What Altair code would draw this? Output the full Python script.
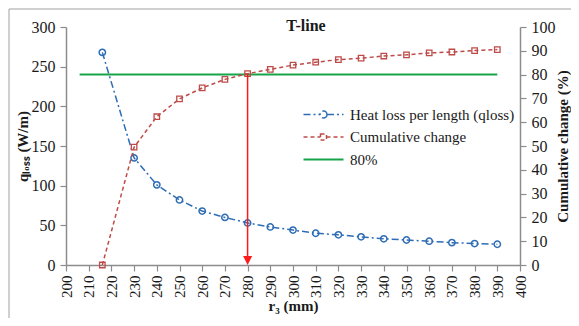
import altair as alt
import pandas as pd

# ---- data ----
r3 = [216, 230, 240, 250, 260, 270, 280, 290, 300, 310, 320, 330, 340, 350, 360, 370, 380, 390]
qloss = [268, 135, 101, 82, 68, 60, 53, 48, 44, 40, 38, 35.5, 33, 31.5, 30, 28.2, 27, 26.2]
cum_change = [0, 49.5, 62.3, 69.8, 74.4, 78.0, 80.4, 82.2, 84.0, 85.2, 86.3, 86.9, 87.8, 88.3, 89.1, 89.5, 90.1, 90.5]
line80_x = [206, 390]
line80_y = [80, 80]
arrow_x = [280]
arrow_top = [80.4]
arrow_bottom = [2.5]
arrow_tip = [0]
x_ticks = list(range(200, 401, 10))
left_ticks = list(range(0, 301, 50))
right_ticks = list(range(0, 101, 10))
series = ["Heat loss per length (qloss)", "Cumulative change", "80%"]

FONT = "Liberation Serif"
BLUE = "#2E6DB5"
RED = "#BE4B48"
GREEN = "#17A34A"
ARROW = "#FF1A1A"
AXIS_GRAY = "#8C8C8C"
TEXT = "#1A1A1A"

df_q = pd.DataFrame({"r3": r3, "v": qloss, "series": series[0]})
df_c = pd.DataFrame({"r3": r3, "v": cum_change, "series": series[1]})
df_80 = pd.DataFrame({"r3": line80_x, "v": line80_y, "series": series[2]})
df_arrow = pd.DataFrame({"r3": arrow_x, "top": arrow_top, "bottom": arrow_bottom, "tip": arrow_tip})

SYM = [
    "M-4,0H-0.7M0.7,0H4M0.7,0A0.7,0.7 0 1,1 -0.7,0A0.7,0.7 0 1,1 0.7,0",
    "M-4,0H-0.6M0.6,0H4M-0.6,-0.6H0.6V0.6H-0.6Z",
    "M-4,0H4",
]
DASH = [[7, 3, 2, 3], [4, 3], [10, 0]]
COLORS = [BLUE, RED, GREEN]
LEG_Y = [80, 102.5, 125]


def color_enc(i):
    return alt.Color(
        "series:N",
        scale=alt.Scale(domain=[series[i]], range=[COLORS[i]]),
        legend=alt.Legend(
            title=None, orient="none", legendX=250, legendY=LEG_Y[i], padding=0,
            labelFont=FONT, labelFontSize=15, labelColor=TEXT, labelOffset=19, labelLimit=400,
            symbolSize=100, symbolStrokeWidth=1.5 if i < 2 else 2, symbolType=SYM[i],
            symbolDash=DASH[i], symbolFillColor="transparent", symbolStrokeColor=COLORS[i],
        ),
    )


x_axis = alt.Axis(values=x_ticks, labelAngle=270, title="r₃ (mm)", titlePadding=1,
                  tickSize=6, labelPadding=4, labelFontSize=15, grid=False, labelOverlap=False)
x_scale = alt.Scale(domain=[200, 400], nice=False, zero=False)
left_axis = alt.Axis(values=left_ticks, title="qₗₒₛₛ (W/m)", orient="left", titlePadding=1,
                     tickSize=6, labelPadding=5, grid=False, labelOverlap=False)
left_scale = alt.Scale(domain=[0, 300], nice=False)
right_axis = alt.Axis(values=right_ticks, title="Cumulative change (%)", orient="right",
                      titleAngle=270, titleBaseline="top", titlePadding=0, tickSize=6,
                      labelPadding=5, grid=False, labelOverlap=False)
right_scale = alt.Scale(domain=[0, 100], nice=False)


def X(field="r3"):
    return alt.X(f"{field}:Q", scale=x_scale, axis=x_axis)


def YL(field="v"):
    return alt.Y(f"{field}:Q", scale=left_scale, axis=left_axis)


def YR(field="v"):
    return alt.Y(f"{field}:Q", scale=right_scale, axis=right_axis)


blue_line = alt.Chart(df_q).mark_line(color=BLUE, strokeWidth=1.5, strokeDash=[7, 3, 2, 3]).encode(x=X(), y=YL())
blue_pts = alt.Chart(df_q).mark_point(shape="circle", size=40, filled=False, strokeWidth=1.5, opacity=1).encode(
    x=X(), y=YL(), color=color_enc(0))
left = alt.layer(blue_line, blue_pts)

green = alt.Chart(df_80).mark_line(strokeWidth=2).encode(x=X(), y=YR(), color=color_enc(2))
red_line = alt.Chart(df_c).mark_line(color=RED, strokeWidth=1.5, strokeDash=[4, 3]).encode(x=X(), y=YR())
red_pts = alt.Chart(df_c).mark_point(shape="square", size=30, filled=False, strokeWidth=1.3, opacity=1).encode(
    x=X(), y=YR(), color=color_enc(1))
arrow_line = alt.Chart(df_arrow).mark_rule(color=ARROW, strokeWidth=1.5).encode(
    x=X(), y=YR("top"), y2="bottom:Q")
arrow_head = alt.Chart(df_arrow).mark_point(
    shape="M-0.6,-1.2L0.6,-1.2L0,0Z", size=225, filled=True, color=ARROW, opacity=1, strokeWidth=0
).encode(x=X(), y=YR("tip"))
right = alt.layer(green, red_line, red_pts, arrow_line, arrow_head).resolve_scale(color="independent")

frame_df = pd.DataFrame({"k": [0]})
frame_left = alt.Chart(frame_df).mark_rule(color="#A0A0A0", strokeWidth=1).encode(
    x=alt.value(-57), y=alt.value(-18), y2=alt.value(400))
frame_top = alt.Chart(frame_df).mark_rule(color="#A0A0A0", strokeWidth=1).encode(
    x=alt.value(-57), x2=alt.value(700), y=alt.value(-18))

chart = alt.layer(frame_left, frame_top, left, right).resolve_scale(y="independent", color="independent").properties(
    width=454, height=238, background="white",
    title=alt.TitleParams("T-line", font=FONT, fontSize=16, fontWeight="bold", color=TEXT,
                          anchor="middle", dx=13, dy=26, offset=-12, baseline="alphabetic"),
    autosize=alt.AutoSizeParams(type="none"),
    padding={"left": 58, "top": 19, "right": 51, "bottom": 53},
).configure_view(stroke=None).configure_axis(
    labelFont=FONT, labelFontSize=16, labelColor=TEXT,
    titleFont=FONT, titleFontSize=15, titleFontWeight="bold", titleColor=TEXT,
    domainColor=AXIS_GRAY, tickColor=AXIS_GRAY, domainWidth=1.5, tickWidth=1.2,
)

chart.save("out.html", embed_options={"renderer": "svg", "actions": False})
